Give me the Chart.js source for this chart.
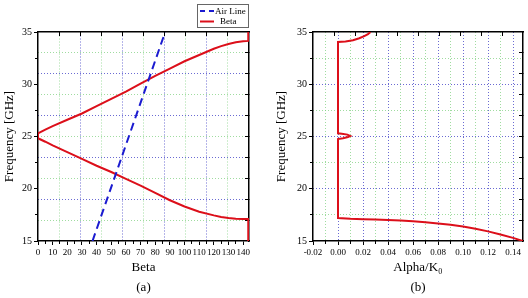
<!DOCTYPE html>
<html><head><meta charset="utf-8">
<script src="https://cdn.jsdelivr.net/npm/chart.js@4.4.1/dist/chart.umd.min.js"></script>
<style>
html,body{margin:0;padding:0;background:#fff;}
#wrap{position:relative;width:528px;height:298px;overflow:hidden;background:#fff;}
.panel{position:absolute;top:0;width:264px;height:298px;}
canvas{display:block;}
</style></head><body>
<div id="wrap">
<div class="panel" style="left:0"><canvas id="ca" width="264" height="298"></canvas></div>
<div class="panel" style="left:264px"><canvas id="cb" width="264" height="298"></canvas></div>
</div>
<script>
// ---------- data: panel (a) ----------
const betaTicks = [0,10,20,30,40,50,60,70,80,90,100,110,120,130,140];
const betaMinorTicks = [5,15,25,35,45,55,65,75,85,95,105,115,125,135];
const freqTicks = [15,20,25,30,35];
const freqMinorTicks = [17.5,22.5,27.5,32.5];
const betaGridA = [14.4,28.8,43.2,57.6,72,86.4,100.8,115.2,129.6];
const freqGridA = [17,19,21,23,25,27,29,31,33];

const airLineBeta = [37.2, 86.8];
const airLineFreq = [15, 35];

const betaCurveBeta = [143.5,143.5,140,135,130,125,120,110,100,90,80,70,60,50,40,30,20,10,5,0,
                       0,5,10,20,30,40,50,60,70,80,90,100,110,120,125,130,135,140,143.5,143.5];
const betaCurveFreq = [35,34.15,34.12,34.02,33.85,33.65,33.4,32.8,32.2,31.5,30.8,30.05,29.3,28.6,27.9,27.2,26.6,26.0,25.65,25.3,
                       24.83,24.5,24.15,23.5,22.85,22.2,21.6,20.95,20.3,19.6,18.9,18.3,17.8,17.45,17.3,17.2,17.14,17.1,17.1,15];

// ---------- data: panel (b) ----------
const alphaTicks = [-0.02,0,0.02,0.04,0.06,0.08,0.10,0.12,0.14];
const alphaMinorTicks = [-0.01,0.01,0.03,0.05,0.07,0.09,0.11,0.13];
const alphaGridB = [-0.01,0,0.01,0.02,0.03,0.04,0.05,0.06,0.07,0.08,0.09,0.10,0.11,0.12,0.13,0.14];
const freqGridB = [17.5,20,22.5,25,27.5,30,32.5];
const alphaTopTicks = [-0.0032,0.0136,0.0304,0.0472,0.064,0.0808,0.0976,0.1144,0.1312];
const freqRightTicksB = [17,19,21,23,25,27,29,31,33];

const alphaCurveAlpha = [0.148,0.14,0.13,0.12,0.11,0.10,0.09,0.08,0.07,0.06,0.05,0.04,0.03,0.02,0.01,0.0,
                         0.0,0.004,0.008,0.0098,0.0075,0.003,0.0,
                         0.0,0.006,0.012,0.017,0.021,0.024,0.026];
const alphaCurveFreq = [15.0,15.3,15.62,15.92,16.17,16.38,16.55,16.68,16.79,16.88,16.95,17.0,17.05,17.08,17.12,17.2,
                        24.75,24.83,24.95,25.05,25.18,25.27,25.3,
                        34.05,34.1,34.22,34.4,34.6,34.8,35.0];

// ---------- styling ----------
const RED = '#dc0f1a';
const BLUE_LINE = '#1b1bd0';
const BLUE_GRID = 'rgba(70,70,200,0.8)';
const GREEN_GRID = 'rgba(120,205,120,0.7)';
const SERIF = "'Liberation Serif','Times New Roman',serif";

Chart.defaults.font.family = SERIF;
Chart.defaults.color = '#000';

const zip = (xs, ys) => xs.map((x, i) => ({x, y: ys[i]}));
const setTicks = arr => s => { s.ticks = arr.map(v => ({value: v})); };
const fixedSize = sz => s => { if (s.isHorizontal()) s.height = sz; else s.width = sz; };
const frame = {display: true, color: '#000', width: 1.5};

// minor tick-mark-only axis
const minorAxis = (position, min, max, ticks) => ({
  type: 'linear', position, min, max, weight: -1,
  afterBuildTicks: setTicks(ticks), afterFit: fixedSize(0),
  ticks: {display: false},
  grid: {drawOnChartArea: false, tickLength: 3, tickColor: '#000'},
  border: {display: false}
});

const legendBox = {
  id: 'legendBox',
  afterDraw(chart) {
    const ctx = chart.ctx;
    const ds = chart.data.datasets;
    ctx.save();
    ctx.strokeStyle = '#666';
    ctx.lineWidth = 1;
    ctx.strokeRect(197.5, 4.5, 51, 23);
    ctx.font = '9px ' + SERIF;
    ctx.textBaseline = 'middle';
    ctx.textAlign = 'left';
    ctx.strokeStyle = ds[0].borderColor; ctx.lineWidth = 2; ctx.setLineDash([5, 4]);
    ctx.beginPath(); ctx.moveTo(200, 11); ctx.lineTo(214, 11); ctx.stroke();
    ctx.setLineDash([]);
    ctx.fillStyle = '#000';
    ctx.fillText(ds[0].label, 215, 11.5);
    ctx.strokeStyle = ds[1].borderColor; ctx.lineWidth = 2;
    ctx.beginPath(); ctx.moveTo(200, 21.5); ctx.lineTo(214, 21.5); ctx.stroke();
    ctx.fillText(ds[1].label, 220, 22);
    ctx.restore();
  }
};

// ---------- chart (a) ----------
new Chart(document.getElementById('ca'), {
  type: 'scatter',
  data: {
    datasets: [
      {label: 'Air Line', data: zip(airLineBeta, airLineFreq), showLine: true, borderColor: BLUE_LINE,
       borderWidth: 2, borderDash: [8, 5], pointRadius: 0, xAxisID: 'x', yAxisID: 'y'},
      {label: 'Beta', data: zip(betaCurveBeta, betaCurveFreq), showLine: true, borderColor: RED,
       borderWidth: 2, pointRadius: 0, tension: 0, xAxisID: 'x', yAxisID: 'y'}
    ]
  },
  options: {
    responsive: false, animation: false, devicePixelRatio: 1,
    layout: {padding: {top: 32, right: 15, left: 0, bottom: 0}},
    plugins: {legend: {display: false}, tooltip: {enabled: false}},
    scales: {
      x: {type: 'linear', position: 'bottom', min: 0, max: 144,
          afterBuildTicks: setTicks(betaTicks), afterFit: fixedSize(57),
          ticks: {font: {size: 9}, padding: 2, maxRotation: 0, autoSkip: false},
          grid: {drawOnChartArea: false, tickLength: 4, tickColor: '#000'},
          border: frame,
          title: {display: true, text: ['Beta', '(a)'], font: {size: 13, lineHeight: 1.55}, padding: {top: 0, bottom: 0}}},
      xm: minorAxis('bottom', 0, 144, betaMinorTicks),
      xg: {type: 'linear', position: 'top', min: 0, max: 144,
           afterBuildTicks: setTicks(betaGridA), afterFit: fixedSize(0),
           ticks: {display: false},
           grid: {color: c => c.index % 2 === 0 ? GREEN_GRID : BLUE_GRID, lineWidth: 1, tickLength: -4, tickColor: '#000'},
           border: {display: true, color: '#000', width: 1.5, dash: [1, 2]}},
      y: {type: 'linear', position: 'left', min: 15, max: 35,
          afterBuildTicks: setTicks(freqTicks), afterFit: fixedSize(38),
          ticks: {font: {size: 10}, padding: 2},
          grid: {drawOnChartArea: false, tickLength: 4, tickColor: '#000'},
          border: frame,
          title: {display: true, text: 'Frequency [GHz]', font: {size: 13}, padding: {top: 2, bottom: 0}}},
      ym: minorAxis('left', 15, 35, freqMinorTicks),
      yg: {type: 'linear', position: 'right', min: 15, max: 35,
           afterBuildTicks: setTicks(freqGridA), afterFit: fixedSize(0),
           ticks: {display: false},
           grid: {color: c => c.index % 2 === 0 ? GREEN_GRID : BLUE_GRID, lineWidth: 1, tickLength: -4, tickColor: '#000'},
           border: {display: true, color: '#000', width: 1.5, dash: [1, 2]}}
    }
  },
  plugins: [legendBox]
});

// ---------- chart (b) ----------
new Chart(document.getElementById('cb'), {
  type: 'scatter',
  data: {
    datasets: [
      {label: 'Alpha/K0', data: zip(alphaCurveAlpha, alphaCurveFreq), showLine: true, borderColor: RED,
       borderWidth: 2, pointRadius: 0, tension: 0, xAxisID: 'x', yAxisID: 'y'}
    ]
  },
  options: {
    responsive: false, animation: false, devicePixelRatio: 1,
    layout: {padding: {top: 32, right: 5, left: 0, bottom: 0}},
    plugins: {legend: {display: false}, tooltip: {enabled: false}},
    scales: {
      x: {type: 'linear', position: 'bottom', min: -0.02, max: 0.148,
          afterBuildTicks: setTicks(alphaTicks), afterFit: fixedSize(57),
          ticks: {font: {size: 9}, padding: 2, maxRotation: 0, autoSkip: false, callback: v => v.toFixed(2)},
          grid: {drawOnChartArea: false, tickLength: 4, tickColor: '#000'},
          border: frame,
          title: {display: true, text: ['Alpha/K\u2080', '(b)'], font: {size: 13, lineHeight: 1.55}, padding: {top: 0, bottom: 0}}},
      xm: minorAxis('bottom', -0.02, 0.148, alphaMinorTicks),
      xg: {type: 'linear', position: 'bottom', min: -0.02, max: 0.148, weight: -2,
           afterBuildTicks: setTicks(alphaGridB), afterFit: fixedSize(0),
           ticks: {display: false},
           grid: {color: c => c.index % 2 === 0 ? GREEN_GRID : BLUE_GRID, lineWidth: 1, drawTicks: false},
           border: {display: false, dash: [1, 2]}},
      xt: {type: 'linear', position: 'top', min: -0.02, max: 0.148,
           afterBuildTicks: setTicks(alphaTopTicks), afterFit: fixedSize(0),
           ticks: {display: false},
           grid: {drawOnChartArea: false, tickLength: -4, tickColor: '#000'},
           border: frame},
      y: {type: 'linear', position: 'left', min: 15, max: 35,
          afterBuildTicks: setTicks(freqTicks), afterFit: fixedSize(49),
          ticks: {font: {size: 10}, padding: 2},
          grid: {drawOnChartArea: false, tickLength: 4, tickColor: '#000'},
          border: frame,
          title: {display: true, text: 'Frequency [GHz]', font: {size: 13}, padding: {top: 10, bottom: 0}}},
      ym: minorAxis('left', 15, 35, freqMinorTicks),
      yg: {type: 'linear', position: 'left', min: 15, max: 35, weight: -2,
           afterBuildTicks: setTicks(freqGridB), afterFit: fixedSize(0),
           ticks: {display: false},
           grid: {color: c => c.index % 2 === 0 ? GREEN_GRID : BLUE_GRID, lineWidth: 1, drawTicks: false},
           border: {display: false, dash: [1, 2]}},
      yt: {type: 'linear', position: 'right', min: 15, max: 35,
           afterBuildTicks: setTicks(freqRightTicksB), afterFit: fixedSize(0),
           ticks: {display: false},
           grid: {drawOnChartArea: false, tickLength: -4, tickColor: '#000'},
           border: frame}
    }
  }
});
</script>
</body></html>
